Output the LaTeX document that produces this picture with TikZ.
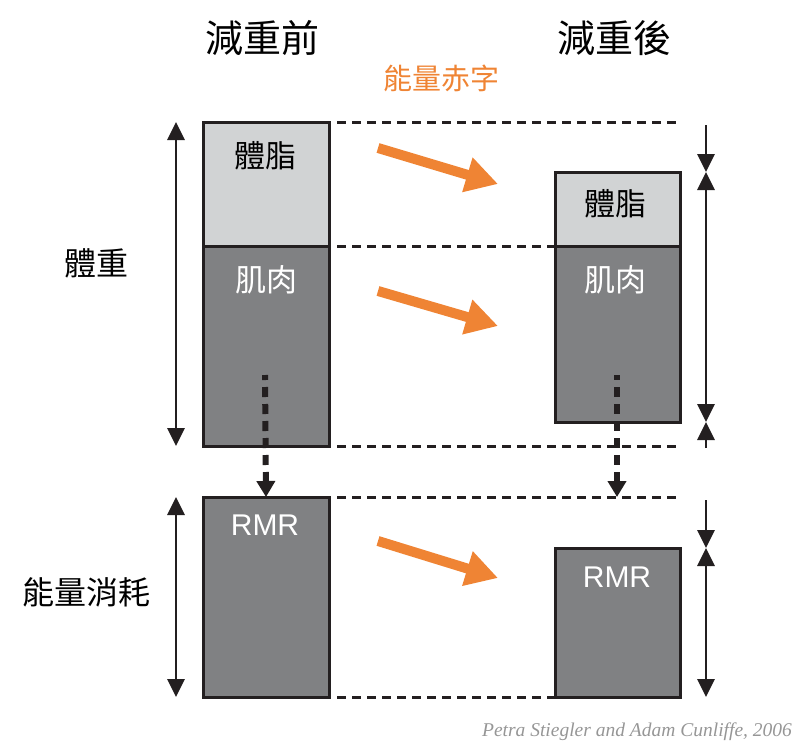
\documentclass[tikz,border=0pt]{standalone}
\usepackage{fontspec}
\setmainfont{Liberation Sans}
\newfontfamily\cjk{Noto Sans CJK TC}
\newfontfamily\citefont{Liberation Serif}
\usetikzlibrary{arrows.meta}
\definecolor{fatgray}{RGB}{209,211,212}
\definecolor{musclegray}{RGB}{128,129,131}
\definecolor{edgeblack}{RGB}{35,31,32}
\definecolor{deficit}{RGB}{239,132,52}
\definecolor{citegray}{RGB}{150,150,150}
\tikzset{
  fatbox/.style={draw=edgeblack, line width=3pt, fill=fatgray, minimum width=126pt, inner sep=0pt, outer sep=0pt},
  musbox/.style={draw=edgeblack, line width=3pt, fill=musclegray, minimum width=126pt, inner sep=0pt, outer sep=0pt},
  cjklabel/.style={font=\cjk\fontsize{31}{31}\selectfont, inner sep=0pt},
  sidelabel/.style={font=\cjk\fontsize{32}{32}\selectfont, inner sep=0pt},
  titlelabel/.style={font=\cjk\fontsize{38}{38}\selectfont, inner sep=0pt},
  rmrlabel/.style={font=\fontsize{30}{30}\selectfont, text=white, inner sep=0pt},
  guide/.style={draw=edgeblack, line width=3pt, dash pattern=on 9pt off 6pt},
  dimarrow/.style={draw=edgeblack, line width=2.8pt},
  tipd/.style={-{Triangle[length=18pt,width=17pt]}},
  tipb/.style={{Triangle[length=18pt,width=17pt]}-{Triangle[length=18pt,width=17pt]}},
  flowarrow/.style={draw=edgeblack, line width=6pt, dash pattern=on 10pt off 7pt, dash phase=5pt, -{Triangle[length=16pt,width=18pt]}},
  deficitarrow/.style={draw=deficit, line width=10pt, -{Triangle[length=32pt,width=34pt]}},
}
\begin{document}
\begin{tikzpicture}[x=1pt,y=-1pt]
\useasboundingbox (0,0) rectangle (811,755);
% boxes
\node[musbox, minimum height=200pt] (lm) at (266,346) {};
\node[fatbox, minimum height=124pt] (lf) at (266,184) {};
\node[musbox, minimum height=200pt] (lr) at (266,597) {};
\node[musbox, minimum width=125pt, minimum height=176pt] (rm) at (617.5,334) {};
\node[fatbox, minimum width=125pt, minimum height=74pt] (rf) at (617.5,209) {};
\node[musbox, minimum width=125pt, minimum height=149pt] (rr) at (617.5,622.5) {};
% labels in boxes
\node[cjklabel] (lfl) at (265,156) {體脂};
\node[cjklabel, text=white] (lml) at (266,280) {肌肉};
\node[rmrlabel] (lrl) at (265,525) {RMR};
\node[cjklabel] (rfl) at (615,204) {體脂};
\node[cjklabel, text=white] (rml) at (615,280) {肌肉};
\node[rmrlabel] (rrl) at (617,577) {RMR};
% titles
\node[titlelabel] (t1) at (262,38) {減重前};
\node[titlelabel] (t2) at (614,38) {減重後};
\node[font=\cjk\fontsize{29}{29}\selectfont, text=deficit, inner sep=0pt] (def) at (441,78) {能量赤字};
\node[sidelabel] (bw) at (96,263) {體重};
\node[sidelabel] (ee) at (86,592) {能量消耗};
\node[font=\citefont\itshape\fontsize{19.5}{19.5}\selectfont, text=citegray, inner sep=0pt] (cite) at (637,732) {Petra Stiegler and Adam Cunliffe, 2006};
% guide coordinates
\coordinate (g1) at (680,122);
\coordinate (g3) at (680,446);
\coordinate (g4) at (680,497);
\draw[guide] ([xshift=8pt]lf.north east) -- (g1);
\draw[guide] ([xshift=8pt]lf.south east) -- (rf.south west);
\draw[guide] ([xshift=8pt]lm.south east) -- (g3);
\draw[guide] ([xshift=8pt]lr.north east) -- (g4);
\draw[guide] ([xshift=8pt]lr.south east) -- (rr.south west);
% left dimension arrows
\coordinate (la1) at (176,122);
\coordinate (la2) at (176,446);
\coordinate (la3) at (176,497);
\coordinate (la4) at (176,697);
\draw[dimarrow, tipb] (la1) -- (la2);
\draw[dimarrow, tipb] (la3) -- (la4);
% right dimension arrows
\coordinate (ra0) at (706,125);
\coordinate (ra1) at (706,172);
\coordinate (ra2) at (706,422);
\coordinate (ra3) at (706,448);
\coordinate (ra4) at (706,500);
\coordinate (ra5) at (706,548);
\coordinate (ra6) at (706,697);
\draw[dimarrow, tipd] (ra0) -- (ra1);
\draw[dimarrow, tipb] (ra1) -- (ra2);
\draw[dimarrow, tipd] (ra3) -- (ra2);
\draw[dimarrow, tipd] (ra4) -- (ra5);
\draw[dimarrow, tipb] (ra5) -- (ra6);
% dotted flow arrows
\coordinate (lfs) at (265,375);
\coordinate (rfs) at (617,375);
\coordinate (rfe) at (617,497);
\draw[flowarrow] (lfs) -- (lr.north);
\draw[flowarrow] (rfs) -- (rfe);
% deficit arrows
\coordinate (d1s) at (378,148);
\coordinate (d1e) at (498,184);
\coordinate (d2s) at (378,291);
\coordinate (d2e) at (498,326);
\coordinate (d3s) at (378,541);
\coordinate (d3e) at (498,578);
\draw[deficitarrow] (d1s) -- (d1e);
\draw[deficitarrow] (d2s) -- (d2e);
\draw[deficitarrow] (d3s) -- (d3e);
\end{tikzpicture}
\end{document}
